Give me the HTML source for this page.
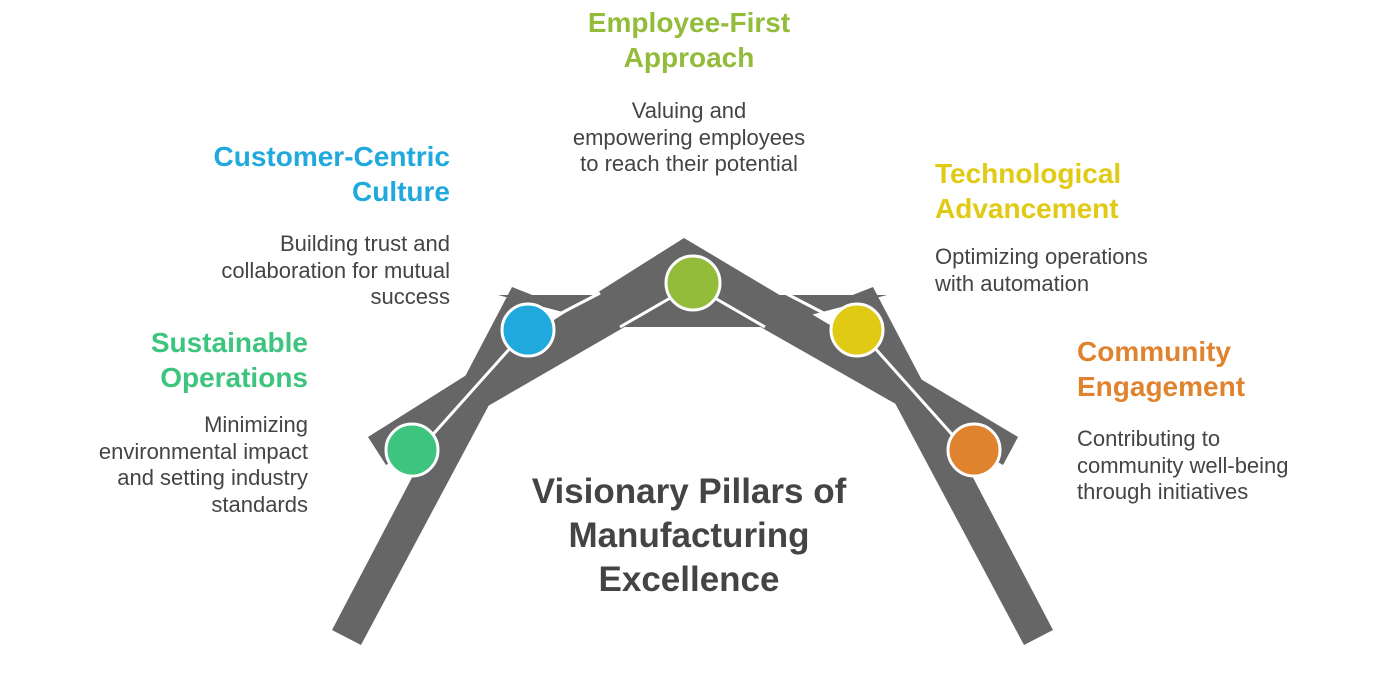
<!DOCTYPE html>
<html><head><meta charset="utf-8"><style>
body{margin:0;width:1376px;height:685px;background:#fff;position:relative;overflow:hidden;font-family:"Liberation Sans",sans-serif}
.t{position:absolute;font-weight:bold;font-size:28px;line-height:35px;white-space:nowrap}
.b{position:absolute;font-size:22px;line-height:26.7px;color:#444;white-space:nowrap}
.r{text-align:right}.c{text-align:center}
</style></head><body>
<svg width="1376" height="685" style="position:absolute;left:0;top:0">
<g fill="#666">
<polygon points="498,295 887,295 765,327 620,327"/>
<polygon points="512,287 545,300 361,645 332,630"/>
<polygon points="873,287 840,300 1024,645 1053,630"/>
<polygon points="368,437 684,238 1018,437 1003,465 692,288 386,465"/>
</g>
<g stroke="#fff" stroke-width="3">
<line x1="428" y1="440" x2="512" y2="346"/>
<line x1="548" y1="320" x2="600" y2="293"/>
<line x1="620" y1="327" x2="672" y2="297"/>
<line x1="957" y1="440" x2="873" y2="346"/>
<line x1="837" y1="320" x2="785" y2="293"/>
<line x1="765" y1="327" x2="713" y2="297"/>
</g>
<g stroke="#fff" stroke-width="3">
<circle cx="412" cy="450" r="26" fill="#3dc47e"/>
<circle cx="528" cy="330" r="26" fill="#1fa9dc"/>
<circle cx="693" cy="283" r="27" fill="#92bc3a"/>
<circle cx="857" cy="330" r="26" fill="#e0ca14"/>
<circle cx="974" cy="450" r="26" fill="#e0832e"/>
</g>
</svg>
<div class="t c" style="left:489px;width:400px;top:5px;color:#92bc3a">Employee-First<br>Approach</div>
<div class="b c" style="left:489px;width:400px;top:98px">Valuing and<br>empowering employees<br>to reach their potential</div>
<div class="t r" style="left:50px;width:400px;top:139px;color:#1fa9dc">Customer-Centric<br>Culture</div>
<div class="b r" style="left:50px;width:400px;top:231px">Building trust and<br>collaboration for mutual<br>success</div>
<div class="t r" style="left:0;width:308px;top:325px;color:#3dc47e">Sustainable<br>Operations</div>
<div class="b r" style="left:0;width:308px;top:412px">Minimizing<br>environmental impact<br>and setting industry<br>standards</div>
<div class="t" style="left:935px;top:156px;color:#e0ca14">Technological<br>Advancement</div>
<div class="b" style="left:935px;top:244px">Optimizing operations<br>with automation</div>
<div class="t" style="left:1077px;top:334px;color:#e0832e">Community<br>Engagement</div>
<div class="b" style="left:1077px;top:426px">Contributing to<br>community well-being<br>through initiatives</div>
<div class="t c" style="left:439px;width:500px;top:470px;font-size:35px;line-height:44px;color:#444">Visionary Pillars of<br>Manufacturing<br>Excellence</div>
</body></html>
